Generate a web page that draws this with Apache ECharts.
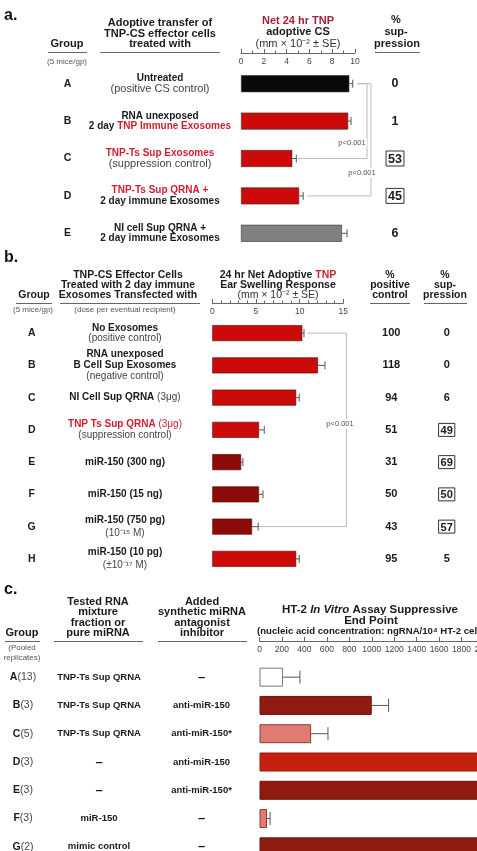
<!DOCTYPE html>
<html>
<head>
<meta charset="utf-8">
<script src="https://cdn.jsdelivr.net/npm/echarts@6/dist/echarts.min.js"></script>
<style>
  html, body { margin: 0; padding: 0; background: #fff; overflow: hidden; }
  #wrap { width: 477px; height: 851px; overflow: hidden; position: relative; }
  #main { width: 500px; height: 851px; }
</style>
</head>
<body>
<div id="wrap"><div id="main"></div></div>
<script>
  // ---- panel a data ----
  const aGroups = ['A', 'B', 'C', 'D', 'E'];
  const aTreat = [
    '{b|Untreated}\n{r|(positive CS control)}',
    '{b|RNA unexposed}\n{b|2 day }{rb|TNP Immune Exosomes}',
    '{rb|TNP-Ts Sup Exosomes}\n{r|(suppression control)}',
    '{rb|TNP-Ts Sup QRNA +}\n{b|2 day immune Exosomes}',
    '{b|NI cell Sup QRNA +}\n{b|2 day immune Exosomes}'
  ];
  const aMean = [9.5, 9.4, 4.5, 5.1, 8.85];
  const aSE = [0.3, 0.25, 0.35, 0.35, 0.45];
  const aSupp = [0, 1, 53, 45, 6];
  const aSig = [false, false, true, true, false];

  // ---- panel b data ----
  const bGroups = ['A', 'B', 'C', 'D', 'E', 'F', 'G', 'H'];
  const bTreat = [
    '{b|No Exosomes}\n{r|(positive control)}',
    '{b|RNA unexposed}\n{b|B Cell Sup Exosomes}\n{r|(negative control)}',
    '{b|NI Cell Sup QRNA }{r|(3μg)}',
    '{rb|TNP Ts Sup QRNA }{rr|(3μg)}\n{r|(suppression control)}',
    '{b|miR-150 (300 ng)}',
    '{b|miR-150 (15 ng)}',
    '{b2|miR-150 (750 pg)}\n{r2|(10⁻¹⁵ M)}',
    '{b2|miR-150 (10 pg)}\n{r2|(±10⁻¹⁷ M)}'
  ];
  const bMean = [10.3, 12.1, 9.6, 5.35, 3.3, 5.35, 4.55, 9.6];
  const bSE = [0.2, 0.8, 0.35, 0.6, 0.2, 0.45, 0.7, 0.35];
  const bPos = [100, 118, 94, 51, 31, 50, 43, 95];
  const bSupp = [0, 0, 6, 49, 69, 50, 57, 5];
  const bSig = [false, false, false, true, true, true, true, false];

  // ---- panel c data ----
  const cGroups = ['A', 'B', 'C', 'D', 'E', 'F', 'G'];
  const cReps = [13, 3, 5, 3, 3, 3, 2];
  const cRna = ['TNP-Ts Sup QRNA', 'TNP-Ts Sup QRNA', 'TNP-Ts Sup QRNA', '–', '–', 'miR-150', 'mimic control'];
  const cInhib = ['–', 'anti-miR-150', 'anti-miR-150*', 'anti-miR-150', 'anti-miR-150*', '–', '–'];
  const cMean = [210, 1000, 460, 2100, 2100, 67, 2100];
  const cSE = [150, 150, 150, 0, 0, 27, 0];

  const FONT = '"Liberation Sans", Arial, Helvetica, sans-serif';
  const RED = '#cf1f2e';

  let chart = echarts.init(document.getElementById('main'));

  function catAxis(grid, data, pos, margin, fmt, rich) {
    return {
      type: 'category', gridIndex: grid, data: data, inverse: true, position: pos,
      axisLine: { show: false }, axisTick: { show: false }, splitLine: { show: false },
      axisLabel: { interval: 0, margin: margin, align: 'center', formatter: fmt, rich: rich, fontFamily: FONT }
    };
  }

  function valAxis(grid, max, interval, offset, minorSplit) {
    return {
      type: 'value', gridIndex: grid, position: 'top', offset: offset,
      min: 0, max: max, interval: interval,
      axisLine: { show: true, lineStyle: { color: '#666', width: 1 } },
      axisTick: { show: true, length: 4, lineStyle: { color: '#666' } },
      minorTick: { show: minorSplit > 0, splitNumber: minorSplit || 5, length: 2.5, lineStyle: { color: '#666' } },
      splitLine: { show: false },
      axisLabel: { inside: true, margin: 4, fontSize: 8.5, color: '#444', fontFamily: FONT,
        formatter: function (v) { return String(v); } }
    };
  }

  const richA = {
    b: { fontSize: 10, fontWeight: 'bold', color: '#1a1a1a', lineHeight: 10.5, fontFamily: FONT },
    r: { fontSize: 11, color: '#444', lineHeight: 10.5, fontFamily: FONT },
    rb: { fontSize: 10, fontWeight: 'bold', color: RED, lineHeight: 10.5, fontFamily: FONT }
  };
  const richB = {
    b: { fontSize: 10, fontWeight: 'bold', color: '#1a1a1a', lineHeight: 10.7, fontFamily: FONT },
    r: { fontSize: 10, color: '#444', lineHeight: 10.7, fontFamily: FONT },
    rb: { fontSize: 10, fontWeight: 'bold', color: RED, lineHeight: 10.7, fontFamily: FONT },
    rr: { fontSize: 10, color: RED, lineHeight: 10.7, fontFamily: FONT },
    b2: { fontSize: 10, fontWeight: 'bold', color: '#1a1a1a', lineHeight: 13, fontFamily: FONT },
    r2: { fontSize: 10, color: '#444', lineHeight: 13, fontFamily: FONT }
  };
  const richLetter = {
    g: { fontSize: 10.5, fontWeight: 'bold', color: '#1a1a1a', fontFamily: FONT },
    n: { fontSize: 10.5, color: '#444', fontFamily: FONT }
  };
  function richNum(size) {
    return {
      n: { fontSize: size, fontWeight: 'bold', color: '#1a1a1a', fontFamily: FONT },
      box: { fontSize: size, fontWeight: 'bold', color: '#1a1a1a', fontFamily: FONT,
             borderColor: '#333', borderWidth: 1, padding: [2, 2, 0, 2] }
    };
  }
  const richC = {
    b: { fontSize: 9.5, fontWeight: 'bold', color: '#1a1a1a', fontFamily: FONT },
    d: { fontSize: 13, fontWeight: 'bold', color: '#1a1a1a', fontFamily: FONT }
  };
  function cLabel(s) {
    return s === '–' ? '{d|' + s + '}' : '{b|' + s + '}';
  }

  function errRender(cap) {
    return function (params, api) {
      const i = api.value(0), m = api.value(1), e = api.value(2);
      if (!e) return null;
      const p0 = api.coord([m, i]);
      const p1 = api.coord([m + e, i]);
      const st = { stroke: '#555', lineWidth: 1 };
      return {
        type: 'group',
        children: [
          { type: 'line', shape: { x1: p0[0], y1: p0[1], x2: p1[0], y2: p1[1] }, style: st },
          { type: 'line', shape: { x1: p1[0], y1: p1[1] - cap / 2, x2: p1[0], y2: p1[1] + cap / 2 }, style: st }
        ]
      };
    };
  }

  function bracketRender(params, api) {
    const from = api.value(0), to = api.value(1);
    const pts = [
      api.coord([api.value(2), from]),
      api.coord([api.value(3), from]),
      api.coord([api.value(3), to]),
      api.coord([api.value(4), to])
    ];
    return { type: 'polyline', shape: { points: pts }, style: { stroke: '#bbb', lineWidth: 1, fill: null } };
  }

  // bracket: [fromRow, toRow, startX, lineX, endX] in axis units
  const aBrackets = [[0, 2, 10.2, 11.05, 5.0], [0, 3, 10.2, 11.4, 5.8]];
  const bBrackets = [[0, 6, 10.85, 15.37, 5.35]];

  const aColors = ['#0a0a0a', '#cc0a0a', '#cc0a0a', '#cc0a0a', '#808080'];
  const bColors = ['#cc0a0a', '#cc0a0a', '#cc0a0a', '#cc0a0a', '#8c0a0a', '#8c0a0a', '#8c0a0a', '#cc0a0a'];
  const cColors = ['#ffffff', '#8e1a10', '#e07a72', '#c4200f', '#8e1a10', '#e07a72', '#8e1a10'];
  const cBorders = ['#777', '#6a140c', '#8b3a35', '#9a1a0c', '#6a140c', '#8b3a35', '#6a140c'];

  // headers and rules
  const graphics = [];
  function txt(text, x, y, size, weight, color, align, extra) {
    const st = { text: text, x: x, y: y, fontSize: size, fontWeight: weight || 'normal',
      fontFamily: FONT, fill: color || '#1a1a1a', align: align || 'center', verticalAlign: 'middle' };
    Object.assign(st, extra || {});
    graphics.push({ type: 'text', style: st, z: 10 });
  }
  function rule(x1, x2, y) {
    graphics.push({ type: 'line', shape: { x1: x1, y1: y + 0.5, x2: x2, y2: y + 0.5 }, style: { stroke: '#666', lineWidth: 1 } });
  }
  const pBg = { backgroundColor: '#fff', padding: [1, 1] };

  // panel a
  txt('a.', 4, 16, 16, 'bold', '#111', 'left');
  txt('Adoptive transfer of', 160, 22.5, 11, 'bold');
  txt('TNP-CS effector cells', 160, 33.5, 11, 'bold');
  txt('treated with', 160, 44, 11, 'bold');
  rule(100, 220, 52);
  txt('Group', 67, 44, 11, 'bold');
  rule(48, 87, 52);
  txt('(5 mice/gp)', 67, 61.5, 8, 'normal', '#555');
  txt('Net 24 hr TNP', 298, 20.5, 11, 'bold', '#a3213a');
  txt('adoptive CS', 298, 32, 11, 'bold');
  txt('(mm × 10⁻² ± SE)', 298, 44, 11, 'normal', '#333');
  txt('%', 396, 20, 11, 'bold');
  txt('sup-', 396, 32, 11, 'bold');
  txt('pression', 397, 44, 11, 'bold');
  rule(375, 420, 52);
  txt('p<0.001', 352, 143, 7.5, 'normal', '#555', 'center', pBg);
  txt('p<0.001', 362, 173, 7.5, 'normal', '#555', 'center', pBg);

  // panel b
  txt('b.', 4, 258, 16, 'bold', '#111', 'left');
  txt('TNP-CS Effector Cells', 128, 275, 10.5, 'bold');
  txt('Treated with 2 day immune', 128, 285.5, 10.5, 'bold');
  txt('Exosomes Transfected with', 128, 295.5, 10.5, 'bold');
  rule(60, 200, 303);
  txt('Group', 34, 295.5, 10.5, 'bold');
  rule(16, 52, 303);
  txt('(5 mice/gp)', 33, 309.5, 8, 'normal', '#555');
  txt('(dose per eventual recipient)', 125, 309.5, 8, 'normal', '#555');
  txt('{b|24 hr Net Adoptive }{r|TNP}', 278, 275, 10.5, 'bold', '#1a1a1a', 'center', {
    rich: { b: { fontSize: 10.5, fontWeight: 'bold', fontFamily: FONT, fill: '#1a1a1a' },
            r: { fontSize: 10.5, fontWeight: 'bold', fontFamily: FONT, fill: RED } }
  });
  txt('Ear Swelling Response', 278, 285.5, 10.5, 'bold');
  txt('(mm × 10⁻² ± SE)', 278, 295.5, 10.5, 'normal', '#333');
  txt('%', 390, 275, 10.5, 'bold');
  txt('positive', 390, 285.5, 10.5, 'bold');
  txt('control', 390, 295.5, 10.5, 'bold');
  rule(370, 410, 303);
  txt('%', 445, 275, 10.5, 'bold');
  txt('sup-', 445, 285.5, 10.5, 'bold');
  txt('pression', 445, 295.5, 10.5, 'bold');
  rule(424, 467, 303);
  txt('p<0.001', 340, 424, 7.5, 'normal', '#555', 'center', pBg);

  // panel c
  txt('c.', 4, 590, 16, 'bold', '#111', 'left');
  ['Tested RNA', 'mixture', 'fraction or', 'pure miRNA'].forEach(function (s, k) {
    txt(s, 98, 601.5 + k * 10.6, 11, 'bold');
  });
  rule(54, 143, 641);
  ['Added', 'synthetic miRNA', 'antagonist', 'inhibitor'].forEach(function (s, k) {
    txt(s, 202, 601.5 + k * 10.6, 11, 'bold');
  });
  rule(158, 247, 641);
  txt('Group', 22, 633, 11, 'bold');
  rule(5, 40, 641);
  txt('(Pooled', 22, 647.5, 8, 'normal', '#555');
  txt('replicates)', 22, 658, 8, 'normal', '#555');
  txt('{b|HT-2 }{i|In Vitro}{b| Assay Suppressive}', 370, 610, 11.5, 'bold', '#1a1a1a', 'center', {
    rich: { b: { fontSize: 11.5, fontWeight: 'bold', fontFamily: FONT, fill: '#1a1a1a' },
            i: { fontSize: 11.5, fontWeight: 'bold', fontStyle: 'italic', fontFamily: FONT, fill: '#1a1a1a' } }
  });
  txt('End Point', 371, 620.5, 11.5, 'bold');
  txt('(nucleic acid concentration: ngRNA/10⁴ HT-2 cells)', 257, 631.5, 9.6, 'bold', '#1a1a1a', 'left');

  const option = {
    animation: false,
    backgroundColor: '#fff',
    textStyle: { fontFamily: FONT },
    grid: [
      { left: 241, top: 65, width: 114, height: 187, outerBoundsMode: 'none', containLabel: false },
      { left: 212.3, top: 317, width: 131, height: 258, outerBoundsMode: 'none', containLabel: false },
      { left: 259.5, top: 663, width: 224.5, height: 198, outerBoundsMode: 'none', containLabel: false }
    ],
    xAxis: [
      valAxis(0, 10, 2, 12, 2),
      valAxis(1, 15, 5, 14, 5),
      valAxis(2, 2000, 200, 22, 0)
    ],
    yAxis: [
      catAxis(0, aGroups, 'left', 173.5, function (v) { return '{g|' + v + '}'; }, richLetter),
      catAxis(0, aGroups, 'left', 81, function (v, i) { return aTreat[i]; }, richA),
      catAxis(0, aGroups, 'right', 40, function (v, i) {
        return aSig[i] ? '{box|' + aSupp[i] + '}' : '{n|' + aSupp[i] + '}';
      }, richNum(12.5)),
      catAxis(1, bGroups, 'left', 180.6, function (v) { return '{g|' + v + '}'; }, richLetter),
      catAxis(1, bGroups, 'left', 87.3, function (v, i) { return bTreat[i]; }, richB),
      catAxis(1, bGroups, 'right', 48, function (v, i) { return '{n|' + bPos[i] + '}'; }, richNum(11)),
      catAxis(1, bGroups, 'right', 103.4, function (v, i) {
        return bSig[i] ? '{box|' + bSupp[i] + '}' : '{n|' + bSupp[i] + '}';
      }, richNum(11)),
      catAxis(2, cGroups, 'left', 236.5, function (v, i) { return '{g|' + v + '}{n|(' + cReps[i] + ')}'; }, richLetter),
      catAxis(2, cGroups, 'left', 160.5, function (v, i) { return cLabel(cRna[i]); }, richC),
      catAxis(2, cGroups, 'left', 58, function (v, i) { return cLabel(cInhib[i]); }, richC)
    ],
    series: [
      {
        type: 'bar', xAxisIndex: 0, yAxisIndex: 1, barWidth: 17,
        data: aMean.map(function (v, i) {
          return { value: v, itemStyle: { color: aColors[i], borderColor: '#333', borderWidth: 0.6 } };
        })
      },
      {
        type: 'custom', xAxisIndex: 0, yAxisIndex: 1, renderItem: errRender(8), z: 3,
        encode: { x: 1, y: 0 },
        data: aMean.map(function (v, i) { return [i, v, aSE[i]]; })
      },
      {
        type: 'custom', xAxisIndex: 0, yAxisIndex: 1, renderItem: bracketRender, z: 1,
        encode: { x: [2, 3, 4], y: [0, 1] }, data: aBrackets
      },
      {
        type: 'bar', xAxisIndex: 1, yAxisIndex: 4, barWidth: 16,
        data: bMean.map(function (v, i) {
          return { value: v, itemStyle: { color: bColors[i], borderColor: '#4a0505', borderWidth: 0.6 } };
        })
      },
      {
        type: 'custom', xAxisIndex: 1, yAxisIndex: 4, renderItem: errRender(8), z: 3,
        encode: { x: 1, y: 0 },
        data: bMean.map(function (v, i) { return [i, v, bSE[i]]; })
      },
      {
        type: 'custom', xAxisIndex: 1, yAxisIndex: 4, renderItem: bracketRender, z: 1,
        encode: { x: [2, 3, 4], y: [0, 1] }, data: bBrackets
      },
      {
        type: 'bar', xAxisIndex: 2, yAxisIndex: 8, barWidth: 19,
        data: cMean.map(function (v, i) {
          return { value: v, itemStyle: { color: cColors[i], borderColor: cBorders[i], borderWidth: 1 } };
        })
      },
      {
        type: 'custom', xAxisIndex: 2, yAxisIndex: 8, renderItem: errRender(13), z: 3,
        encode: { x: 1, y: 0 },
        data: cMean.map(function (v, i) { return [i, v, cSE[i]]; })
      }
    ],
    graphic: graphics
  };

  chart.setOption(option);
</script>
</body>
</html>
